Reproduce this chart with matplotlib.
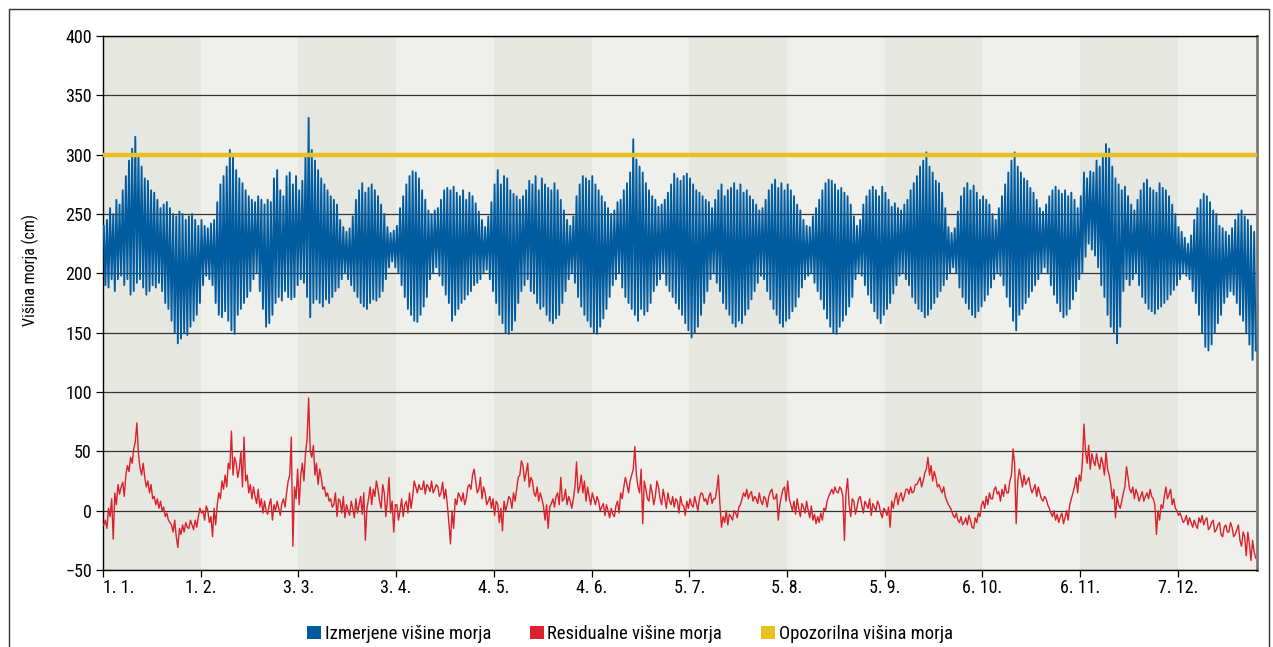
import numpy as np
import matplotlib
matplotlib.use("Agg")
import matplotlib.pyplot as plt
from matplotlib import font_manager
from matplotlib.patches import Patch
from matplotlib.lines import Line2D

# daily maximum of measured sea level (cm), 366 days
meas_high = [
    240, 245, 255, 250, 262, 258, 270, 282, 295, 305,
    315, 300, 290, 280, 278, 270, 268, 262, 255, 258,
    260, 255, 250, 248, 252, 250, 245, 248, 250, 245,
    240, 245, 240, 238, 242, 245, 260, 275, 282, 290,
    304, 300, 287, 280, 276, 270, 265, 262, 260, 265,
    262, 258, 262, 260, 280, 287, 270, 265, 282, 285,
    275, 282, 270, 278, 300, 331, 304, 295, 287, 280,
    275, 270, 265, 262, 258, 245, 239, 235, 238, 248,
    262, 270, 276, 268, 272, 275, 270, 265, 258, 250,
    239, 234, 236, 240, 255, 265, 275, 282, 286, 285,
    280, 270, 262, 253, 250, 253, 255, 262, 270, 272,
    270, 273, 268, 265, 270, 262, 268, 265, 259, 252,
    245, 239, 248, 260, 275, 287, 275, 282, 280, 270,
    267, 265, 262, 265, 270, 278, 275, 282, 270, 280,
    275, 272, 270, 276, 270, 262, 253, 245, 240, 248,
    265, 275, 282, 280, 278, 282, 275, 270, 265, 260,
    255, 250, 253, 260, 262, 270, 276, 285, 313, 296,
    290, 285, 276, 270, 265, 262, 256, 258, 262, 268,
    275, 284, 280, 278, 282, 284, 280, 275, 270, 268,
    265, 262, 260, 255, 262, 270, 275, 265, 270, 272,
    276, 270, 275, 268, 270, 265, 262, 258, 253, 255,
    262, 270, 275, 279, 272, 276, 270, 275, 270, 265,
    258, 253, 245, 240, 239, 248, 255, 262, 270, 276,
    279, 278, 275, 270, 272, 268, 265, 258, 248, 240,
    245, 258, 265, 270, 273, 270, 265, 273, 268, 262,
    256, 259, 255, 253, 258, 262, 270, 276, 282, 290,
    295, 302, 290, 285, 278, 276, 268, 255, 239, 234,
    238, 252, 265, 272, 276, 270, 274, 268, 262, 265,
    262, 258, 250, 245, 255, 265, 275, 285, 295, 302,
    290, 285, 280, 278, 272, 268, 262, 255, 252, 258,
    265, 270, 273, 270, 267, 270, 265, 268, 262, 255,
    265, 285, 280, 286, 285, 295, 290, 300, 309, 305,
    290, 280, 275, 270, 273, 265, 258, 253, 262, 270,
    276, 279, 272, 270, 268, 276, 272, 270, 265, 258,
    250, 239, 235, 230, 225, 232, 245, 255, 262, 267,
    265, 260, 253, 250, 240, 238, 235, 232, 238, 245,
    250, 253, 248, 245, 240, 235,
]

# daily minimum of measured sea level (cm)
meas_low = [
    190, 188, 195, 185, 195, 198, 190, 195, 182, 185,
    192, 195, 188, 182, 185, 190, 188, 192, 185, 175,
    170, 160, 150, 141, 145, 150, 148, 155, 160, 165,
    175, 190, 198, 195, 190, 175, 165, 163, 168, 160,
    152, 149, 165, 170, 175, 180, 185, 195, 200, 185,
    170, 155, 158, 165, 175, 180, 177, 185, 180, 178,
    180, 190, 195, 192, 180, 163, 175, 178, 175, 172,
    178, 175, 180, 185, 188, 195, 200, 195, 190, 185,
    180, 175, 172, 170, 175, 178, 177, 180, 185, 195,
    205, 210, 205, 200, 190, 180, 170, 165, 160, 159,
    165, 172, 180, 195, 200, 205, 198, 190, 182, 175,
    160, 165, 170, 175, 178, 182, 185, 190, 192, 195,
    200, 203, 195, 185, 175, 165, 158, 150, 149, 152,
    160, 175, 185, 190, 195, 185, 183, 175, 170, 172,
    165, 160, 158, 162, 165, 175, 185, 195, 200, 192,
    180, 172, 165, 160, 155, 150, 149, 155, 162, 170,
    180, 190, 195, 200, 188, 180, 175, 170, 165, 160,
    170, 165, 168, 175, 185, 190, 195, 200, 190, 185,
    180, 175, 170, 165, 158, 152, 146, 150, 155, 165,
    175, 185, 195, 200, 192, 185, 175, 170, 165, 158,
    155, 160, 158, 165, 170, 178, 185, 192, 198, 195,
    185, 178, 170, 165, 158, 155, 160, 162, 168, 172,
    180, 188, 195, 198, 200, 192, 185, 178, 170, 162,
    155, 150, 149, 155, 160, 165, 172, 180, 195, 200,
    198, 190, 182, 175, 168, 162, 158, 165, 170, 175,
    183, 190, 198, 200, 195, 190, 180, 175, 170, 168,
    163, 165, 170, 175, 180, 185, 190, 195, 200, 205,
    200, 188, 180, 175, 170, 165, 163, 168, 172, 177,
    182, 188, 195, 200, 198, 190, 180, 172, 160, 152,
    165, 170, 175, 180, 185, 190, 195, 200, 205, 200,
    190, 182, 175, 168, 163, 165, 170, 178, 185, 195,
    200, 214, 225, 220, 215, 205, 190, 180, 165, 155,
    150, 141, 155, 185, 195, 190, 195, 200, 190, 180,
    175, 170, 168, 166, 170, 172, 175, 178, 182, 186,
    190, 195, 200, 198, 195, 185, 175, 165, 150, 138,
    135, 140, 150, 158, 165, 175, 180, 185, 182, 175,
    165, 160, 150, 140, 127, 135,
]

# residual sea level (cm), two readings per day
residual = [
    -12, -8, -15, 2, -5, 10, -24, 15, 5, 22, 14, 20, 24, 12, 30, 38, 33, 45, 40, 52,
    58, 74, 48, 36, 30, 40, 28, 20, 25, 15, 22, 10, 12, 5, 10, 2, 8, 0, 3, -5,
    -2, -8, -10, -12, -18, -8, -22, -31, -15, -20, -12, -18, -10, -14, -15, -8, -12, -16, -8, -14,
    -5, 2, -2, 0, -8, 4, 0, -10, -5, -22, 2, -12, 5, 15, 10, 25, 18, 30, 20, 40,
    35, 67, 30, 45, 40, 28, 35, 50, 20, 62, 25, 30, 15, 22, 10, 20, 12, 6, 18, 3,
    10, -2, 8, 0, -3, 5, 10, -8, 5, 0, 8, 2, -4, 6, 10, 3, 15, 25, 30, 62,
    -30, 20, 10, 35, 5, 30, 40, 25, 48, 60, 95, 50, 45, 55, 30, 40, 22, 35, 28, 18,
    20, 12, 15, 8, 10, 3, 5, 15, -5, 10, 8, -2, 12, -6, 5, 0, -4, 8, 2, -6,
    10, -2, 5, 12, -3, 15, -25, 2, 10, 20, 5, 18, 12, 25, 18, 8, 2, 22, 15, -5,
    10, 28, -2, 8, -18, 5, 5, -8, 0, 10, -5, 5, 8, -2, 15, 2, 12, 25, 20, 15,
    22, 18, 18, 25, 14, 22, 20, 16, 25, 15, 18, 22, 20, 12, 15, 24, 10, 18, 5, -10,
    -28, 0, -15, 10, 5, 15, 12, 8, 15, 5, 10, 20, 22, 18, 30, 35, 25, 15, 18, 28,
    10, 20, 15, 5, 8, 12, 2, 10, -4, 8, 5, -10, 2, -17, 8, 0, 5, 12, 10, 2,
    15, 8, 18, 28, 30, 42, 38, 25, 32, 40, 20, 28, 25, 15, 12, 20, 8, 15, 10, 4,
    -8, 5, -15, 3, 6, 10, 3, 12, 15, 5, 28, 8, 10, 18, 5, 12, 8, 2, 10, 20,
    41, 15, 20, 30, 15, 25, 8, 20, 12, 5, 15, 10, 5, 12, 8, 0, 3, 6, -4, 5,
    0, -6, 2, -3, -5, 4, 8, -2, 15, 10, 20, 28, 22, 15, 25, 30, 35, 54, 30, 20,
    15, 35, -11, 25, 18, 10, 8, 22, 15, 5, 12, 25, 20, 10, 5, 18, 10, 2, 15, 8,
    5, 12, 3, 10, 8, -2, 12, 5, 4, -4, 8, 2, 10, 5, 3, 12, 6, 0, 10, 15,
    14, 8, 10, 5, 12, 15, 6, 10, 10, 18, 30, 5, -14, -5, -10, 0, -12, -3, -5, -8,
    0, -2, -6, 3, 5, 10, 15, 12, 18, 10, 14, 16, 8, 12, 10, 6, 15, 8, 5, 12,
    10, 3, 12, 16, 18, 10, 10, 14, -8, 5, 12, 18, 20, 8, 25, 10, 5, 0, 8, -3,
    10, 2, -5, 6, 3, -2, 8, 0, -6, 4, -8, -3, -11, -5, -10, -2, -8, 2, 0, 8,
    12, 15, 18, 14, 20, 16, 15, 20, 18, 12, -25, 15, 27, 5, -5, 10, 8, -3, 3, 10,
    12, 5, -2, 8, 5, 2, 10, -4, 6, 3, 0, 8, 5, -2, -6, 2, 0, -4, 3, -14,
    8, 2, 10, 15, 5, 12, 15, 8, 12, 18, 18, 14, 20, 15, 16, 22, 22, 25, 28, 20,
    25, 32, 35, 45, 30, 38, 25, 33, 28, 20, 22, 18, 15, 20, 12, 8, 5, 3, 0, -4,
    -6, -2, -8, -10, -5, -12, -10, -6, -12, -4, -8, -14, -15, -6, -10, -2, -5, 5, 8, 2,
    12, 5, 15, 10, 10, 18, 20, 14, 16, 8, 18, 12, 22, 15, 15, 25, 30, 52, 40, -11,
    25, 35, 28, 20, 30, 22, 25, 28, 20, 15, 18, 22, 12, 20, 15, 10, 8, 12, 10, 5,
    2, -2, -5, 0, -8, -3, -10, -5, -2, -11, -6, 0, -8, 5, 10, 15, 20, 28, 15, 30,
    25, 40, 73, 50, 40, 55, 35, 48, 42, 38, 48, 40, 35, 45, 40, 30, 50, 35, 30, 22,
    10, 18, -6, 12, 5, 2, 8, 15, 20, 37, 28, 18, 15, 20, 10, 18, 14, 8, 12, 16,
    8, 12, 15, 10, 18, 12, 10, 5, -20, 0, -8, 5, 2, 12, 20, 10, 14, 18, 5, 10,
    2, 0, -4, -2, -6, -10, -8, -4, -12, -6, -10, -14, -8, -12, -15, -6, -10, -4, -12, -8,
    -6, -16, -14, -10, -8, -18, -16, -12, -10, -20, -22, -14, -12, -18, -18, -10, -14, -22, -20, -16,
    -12, -25, -30, -18, -22, -38, -18, -28, -42, -25, -35, -40,
]

warning_level = 300
tick_labels = ["1. 1.", "1. 2.", "3. 3.", "3. 4.", "4. 5.", "4. 6.",
               "5. 7.", "5. 8.", "5. 9.", "6. 10.", "6. 11.", "7. 12."]
legend_labels = ["Izmerjene višine morja", "Residualne višine morja", "Opozorilna višina morja"]

BLUE = "#005b9f"
RED = "#d9222a"
YELLOW = "#e8c020"

# pick a narrow sans if one is around
installed = {f.name for f in font_manager.fontManager.ttflist}
family = "DejaVu Sans"
for fam in ["Roboto Condensed", "Liberation Sans Narrow", "Open Sans Condensed"]:
    if fam in installed:
        family = fam
        break
plt.rcParams["font.family"] = [family, "DejaVu Sans"]
if family == "DejaVu Sans":
    plt.rcParams["font.stretch"] = "condensed"

n_days = len(meas_high)
days = np.arange(n_days)

fig = plt.figure(figsize=(12.73, 6.47), dpi=100)
ax = fig.add_axes([103 / 1273, 1 - 570 / 647, (1256.5 - 103) / 1273, 534 / 647])

# alternating background bands, one per 31-day tick interval
for i, start in enumerate(range(0, n_days, 31)):
    ax.axvspan(start, min(start + 31, n_days), color="#e7e7e2" if i % 2 == 0 else "#efefeb",
               lw=0, zorder=0)

# measured level: alternate daily high and low
x_meas = np.column_stack((days + 0.25, days + 0.75)).ravel()
y_meas = np.column_stack((meas_high, meas_low)).ravel()
ax.plot(x_meas, y_meas, color=BLUE, lw=1.35, zorder=3)

x_res = np.arange(len(residual)) / 2 + 0.25
ax.plot(x_res, residual, color=RED, lw=1.0, zorder=3)

ax.axhline(warning_level, color=YELLOW, lw=3.2, zorder=4)

ax.set_xlim(0, n_days)
ax.set_ylim(-50, 400)
ax.set_yticks(np.arange(-50, 401, 50))
ax.set_xticks(np.arange(0, n_days, 31))
ax.set_xticklabels(tick_labels)
ax.get_xticklabels()[0].set_horizontalalignment("left")
ax.grid(axis="y", color="#333333", lw=0.9, zorder=1)
ax.set_axisbelow(True)

ax.tick_params(axis="both", direction="out", length=5, width=0.9, labelsize=13, color="black")
ax.tick_params(axis="x", pad=1.5)
ax.tick_params(axis="y", pad=3)
for side in ["left", "bottom", "top"]:
    ax.spines[side].set_color("black")
    ax.spines[side].set_linewidth(1.0)
ax.spines["right"].set_color("#7a7a7a")
ax.spines["right"].set_linewidth(2)

ax.set_ylabel("Višina morja (cm)", fontsize=11.5)
ax.yaxis.set_label_coords(-0.0555, 0.562)

handles = [Patch(facecolor=c, edgecolor="none") for c in (BLUE, RED, YELLOW)]
fig.legend(handles, legend_labels, loc="center", bbox_to_anchor=(630 / 1273, 1 - 634 / 647),
           ncol=3, frameon=False, fontsize=13.4, handlelength=0.75, handleheight=0.75,
           handletextpad=0.18, columnspacing=2.1)

# outer frame (only the top, left and right edges fall inside the picture)
fx0, fx1, fy = 8.5 / 1273, 1268.5 / 1273, 1 - 8.5 / 647
fig.add_artist(Line2D([fx0, fx0, fx1, fx1], [0, fy, fy, 0], transform=fig.transFigure,
                      color="#333333", lw=1.0))

fig.savefig("out.png", dpi=100)
